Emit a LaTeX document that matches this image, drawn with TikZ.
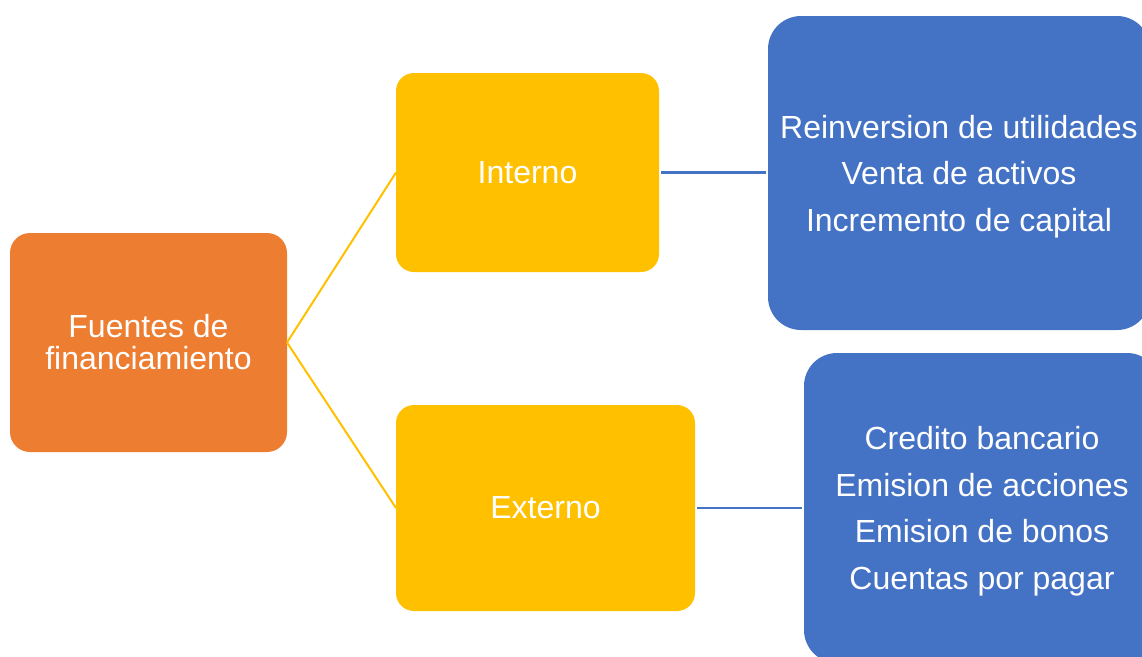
\documentclass[tikz,border=0pt]{standalone}
\usepackage{fontspec}
\setmainfont{Liberation Sans}
\definecolor{corange}{HTML}{ED7D31}
\definecolor{cyellow}{HTML}{FFC000}
\definecolor{cblue}{HTML}{4472C4}
\begin{document}
\begin{tikzpicture}[x=1pt,y=-1pt,
  box/.style={inner sep=0pt, outer sep=0pt, text=white, align=center},
  rootbox/.style={box, fill=corange, rounded corners=20pt, font=\fontsize{32}{32}\selectfont},
  midbox/.style={box, fill=cyellow, rounded corners=18pt, font=\fontsize{32}{36}\selectfont},
  leafbox/.style={box, fill=cblue, rounded corners=33pt},
  leaftext/.style={box, font=\fontsize{32}{46.5}\selectfont},
  yline/.style={draw=cyellow, line width=2pt},
  bline/.style={draw=cblue, line width=2.5pt}]
\clip (0,0) rectangle (1142,656);
\node[rootbox, minimum width=277pt, minimum height=219pt] (root) at (148.5,342.5) {Fuentes de\\financiamiento};
\node[midbox, minimum width=263pt, minimum height=199pt] (int) at (527.5,172.5) {Interno};
\node[midbox, minimum width=299pt, minimum height=206pt] (ext) at (545.5,508) {Externo};
\node[leafbox, minimum width=382pt, minimum height=314pt] (lint) at (959,173) {};
\node[leaftext] (lintt) at ([yshift=-3.5pt]lint.center) {Reinversion de utilidades\\Venta de activos\\Incremento de capital};
\node[leafbox, minimum width=356pt, minimum height=310pt] (lext) at (982,508) {};
\node[leaftext] (lextt) at ([yshift=-3pt]lext.center) {Credito bancario\\Emision de acciones\\Emision de bonos\\Cuentas por pagar};
\draw[yline] (root.east) -- (int.west);
\draw[yline] (root.east) -- (ext.west);
\draw[bline] ([xshift=2pt]int.east) -- ([xshift=-2pt]int.east -| lint.west);
\draw[bline] ([xshift=2pt]ext.east) -- ([xshift=-2pt]ext.east -| lext.west);
\end{tikzpicture}
\end{document}
